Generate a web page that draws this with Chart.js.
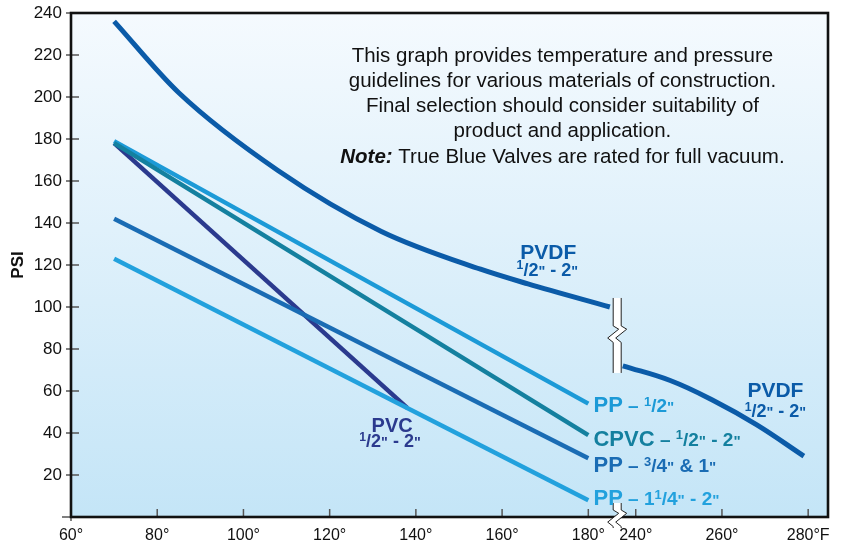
<!DOCTYPE html>
<html>
<head>
<meta charset="utf-8">
<script src="https://cdn.jsdelivr.net/npm/chart.js@4.4.1/dist/chart.umd.min.js"></script>
<style>
html,body{margin:0;padding:0;background:#fff;}
#wrap{width:846px;height:544px;position:relative;}
</style>
</head>
<body>
<div id="wrap"><canvas id="ptChart"></canvas></div>
<script>
'use strict';
// temperatures in degF, pressures in PSI
const X_TICK_TEMPS=[60,80,100,120,140,160,180,240,260,280];
const X_TICK_LABELS=['60°','80°','100°','120°','140°','160°','180°','240°','260°','280°F'];
const Y_TICKS=[0,20,40,60,80,100,120,140,160,180,200,220,240];

const PVDF_LOW_TEMPS=[70,85,108,132,155,166,185];
const PVDF_LOW_PSI=[236,202,165,136,118,111,100];
const PVDF_HIGH_TEMPS=[237,248,258,268,279];
const PVDF_HIGH_PSI=[72,65,55.5,44,29];
const PP_HALF_TEMPS=[70,180];
const PP_HALF_PSI=[179,54];
const CPVC_TEMPS=[70,180];
const CPVC_PSI=[178,39];
const PP_34_TEMPS=[70,180];
const PP_34_PSI=[142,28];
const PP_114_TEMPS=[70,180];
const PP_114_PSI=[123,8];
const PVC_TEMPS=[70,138];
const PVC_PSI=[178,52];

const NOTE_LINES=[
  'This graph provides temperature and pressure',
  'guidelines for various materials of construction.',
  'Final selection should consider suitability of',
  'product and application.'
];

// axis is broken between 180 and 240 degF
const BREAK_FROM=200, BREAK_SHIFT=49;
const toAxis=t=>t>BREAK_FROM?t-BREAK_SHIFT:t;
const pts=(temps,psi)=>temps.map((t,i)=>({x:toAxis(t),y:psi[i]}));

const C={pvdf:'#0b5ba8',ppHalf:'#1c9ad7',cpvc:'#14809f',pp34:'#1a6cb4',pp114:'#22a1dd',pvc:'#2b3a8e'};
const FAM='"Liberation Sans", Arial, Helvetica, sans-serif';

const frac=(n,d,s)=>[{t:n,s:s*0.68,dy:-s*0.36},{t:'/'+d,s:s}];
const inch=s=>({t:'"',s:s*0.8});

const LABELS=[
  {x:170.7,y:123,align:'center',color:C.pvdf,runs:[{t:'PVDF',s:21}]},
  {x:170.5,y:115,align:'center',color:C.pvdf,runs:[...frac('1','2',18),inch(18),{t:' - 2',s:18},inch(18)]},
  {x:272.4,y:57,align:'center',color:C.pvdf,runs:[{t:'PVDF',s:21}]},
  {x:272.4,y:47.6,align:'center',color:C.pvdf,runs:[...frac('1','2',18),inch(18),{t:' - 2',s:18},inch(18)]},
  {x:134.5,y:40.6,align:'center',color:C.pvc,runs:[{t:'PVC',s:20}]},
  {x:134,y:33.3,align:'center',color:C.pvc,runs:[...frac('1','2',18),inch(18),{t:' - 2',s:18},inch(18)]},
  {x:181.2,y:49.8,align:'left',color:C.ppHalf,runs:[{t:'PP',s:22},{t:' – ',s:19},...frac('1','2',19),inch(19)]},
  {x:181.2,y:34,align:'left',color:C.cpvc,runs:[{t:'CPVC',s:22},{t:' – ',s:19},...frac('1','2',19),inch(19),{t:' - 2',s:19},inch(19)]},
  {x:181.2,y:21.2,align:'left',color:C.pp34,runs:[{t:'PP',s:22},{t:' – ',s:19},...frac('3','4',19),inch(19),{t:' & 1',s:19},inch(19)]},
  {x:181.2,y:5.5,align:'left',color:C.pp114,runs:[{t:'PP',s:22},{t:' – 1',s:19},...frac('1','4',19),inch(19),{t:' - 2',s:19},inch(19)]}
];

function drawRuns(ctx,runs,x,y,align,color){
  let w=0;
  runs.forEach(r=>{ctx.font=`${r.w||'bold'} ${r.s}px ${FAM}`;r.wd=ctx.measureText(r.t).width;w+=r.wd;});
  let cx=align==='center'?x-w/2:x;
  ctx.fillStyle=color;
  runs.forEach(r=>{ctx.font=`${r.w||'bold'} ${r.s}px ${FAM}`;ctx.fillText(r.t,cx,y+(r.dy||0));cx+=r.wd;});
}

function drawBreak(ctx,cx,top,bot,zy,k){
  const zig=[[0,0],[5,3],[-5,11],[0,15]].map(p=>[p[0]*k,p[1]*k]);
  const edge=dx=>[[cx+dx,top],...zig.map(p=>[cx+dx+p[0],zy+p[1]]),[cx+dx,bot]];
  const l=edge(-4),r=edge(4);
  ctx.save();
  ctx.beginPath();
  l.forEach((p,i)=>i?ctx.lineTo(p[0],p[1]):ctx.moveTo(p[0],p[1]));
  r.slice().reverse().forEach(p=>ctx.lineTo(p[0],p[1]));
  ctx.closePath();
  ctx.fillStyle='#fff';ctx.fill();
  ctx.strokeStyle='#222';ctx.lineWidth=1;
  [l,r].forEach(e=>{ctx.beginPath();e.forEach((p,i)=>i?ctx.lineTo(p[0],p[1]):ctx.moveTo(p[0],p[1]));ctx.stroke();});
  ctx.restore();
}

const backdrop={
  id:'backdrop',
  beforeDatasetsDraw(chart){
    const {ctx,chartArea:a}=chart;
    const g=ctx.createLinearGradient(0,a.top,0,a.bottom);
    g.addColorStop(0,'#f5fafe');
    g.addColorStop(1,'#c4e5f7');
    ctx.save();ctx.fillStyle=g;ctx.fillRect(a.left,a.top,a.right-a.left,a.bottom-a.top);ctx.restore();
  }
};

const frame={
  id:'frame',
  afterDatasetsDraw(chart){
    const {ctx,chartArea:a,scales:{x,y}}=chart;
    ctx.save();
    // tick marks
    ctx.strokeStyle='#555';ctx.lineWidth=1.5;
    Y_TICKS.forEach(v=>{
      const py=y.getPixelForValue(v);
      ctx.beginPath();
      if(v===0){ctx.moveTo(a.left-9,py);ctx.lineTo(a.left,py);}
      else{ctx.moveTo(a.left-5,py);ctx.lineTo(a.left+(v===240?0:8),py);}
      ctx.stroke();
    });
    X_TICK_TEMPS.forEach(t=>{
      const px=x.getPixelForValue(toAxis(t));
      ctx.beginPath();ctx.moveTo(px,a.bottom-8);ctx.lineTo(px,a.bottom+(t===60?4:0));ctx.stroke();
    });
    // box
    ctx.strokeStyle='#111';ctx.lineWidth=2.6;
    ctx.strokeRect(a.left,a.top,a.right-a.left,a.bottom-a.top);
    // break marks
    const bx=x.getPixelForValue(186.7);
    drawBreak(ctx,bx,y.getPixelForValue(104.3),y.getPixelForValue(68.6),y.getPixelForValue(91),1.1);
    drawBreak(ctx,bx,a.bottom-14,a.bottom+11,a.bottom-7,1.1);
    // labels
    ctx.textBaseline='alphabetic';
    LABELS.forEach(L=>drawRuns(ctx,L.runs,x.getPixelForValue(toAxis(L.x)),y.getPixelForValue(L.y),L.align,L.color));
    // note text
    ctx.fillStyle='#111';ctx.textAlign='center';
    const nx=x.getPixelForValue(174);
    let ny=y.getPixelForValue(216.7);
    NOTE_LINES.forEach(s=>{ctx.font=`20.5px ${FAM}`;ctx.fillText(s,nx,ny);ny+=25;});
    ctx.textAlign='left';
    drawRuns(ctx,[{t:'Note:',s:20.5,w:'italic bold'},{t:' True Blue Valves are rated for full vacuum.',s:20.5,w:'normal'}],nx,ny+1,'center','#111');
    ctx.restore();
  }
};

const line=(label,temps,psi,color,width,mode)=>({
  label,data:pts(temps,psi),borderColor:color,backgroundColor:color,borderWidth:width,
  pointRadius:0,fill:false,tension:mode?0.4:0,cubicInterpolationMode:mode==='monotone'?'monotone':'default'
});

Chart.defaults.font.family=FAM;
new Chart(document.getElementById('ptChart'),{
  type:'line',
  data:{datasets:[
    line('PP 1-1/4 - 2',PP_114_TEMPS,PP_114_PSI,C.pp114,4.5),
    line('PP 3/4 & 1',PP_34_TEMPS,PP_34_PSI,C.pp34,4.5),
    line('CPVC',CPVC_TEMPS,CPVC_PSI,C.cpvc,4.5),
    line('PP 1/2',PP_HALF_TEMPS,PP_HALF_PSI,C.ppHalf,4.5),
    line('PVC',PVC_TEMPS,PVC_PSI,C.pvc,4.5),
    line('PVDF',PVDF_LOW_TEMPS,PVDF_LOW_PSI,C.pvdf,5,'monotone'),
    line('PVDF high',PVDF_HIGH_TEMPS,PVDF_HIGH_PSI,C.pvdf,5,'smooth')
  ]},
  options:{
    responsive:true,
    maintainAspectRatio:false,
    animation:false,
    events:[],
    layout:{padding:{top:13,right:18,left:0,bottom:0}},
    plugins:{legend:{display:false},tooltip:{enabled:false}},
    scales:{
      x:{
        type:'linear',min:60,max:235.6,
        grid:{display:false,drawTicks:false},border:{display:false},
        afterBuildTicks:s=>{s.ticks=X_TICK_TEMPS.map(t=>({value:toAxis(t)}));},
        afterFit:s=>{s.height=27;s.paddingLeft=0;s.paddingRight=0;},
        ticks:{autoSkip:false,maxRotation:0,padding:9,color:'#111',font:{size:16},callback:(v,i)=>X_TICK_LABELS[i]}
      },
      y:{
        min:0,max:240,
        grid:{display:false,drawTicks:false},border:{display:false},
        afterFit:s=>{s.width=71;s.paddingTop=0;s.paddingBottom=0;},
        title:{display:true,text:'PSI',color:'#111',font:{size:17,weight:'bold'},padding:{top:8,bottom:0}},
        ticks:{stepSize:20,padding:9,color:'#111',font:{size:17},callback:v=>v===0?'':v}
      }
    }
  },
  plugins:[backdrop,frame]
});
</script>
</body>
</html>
